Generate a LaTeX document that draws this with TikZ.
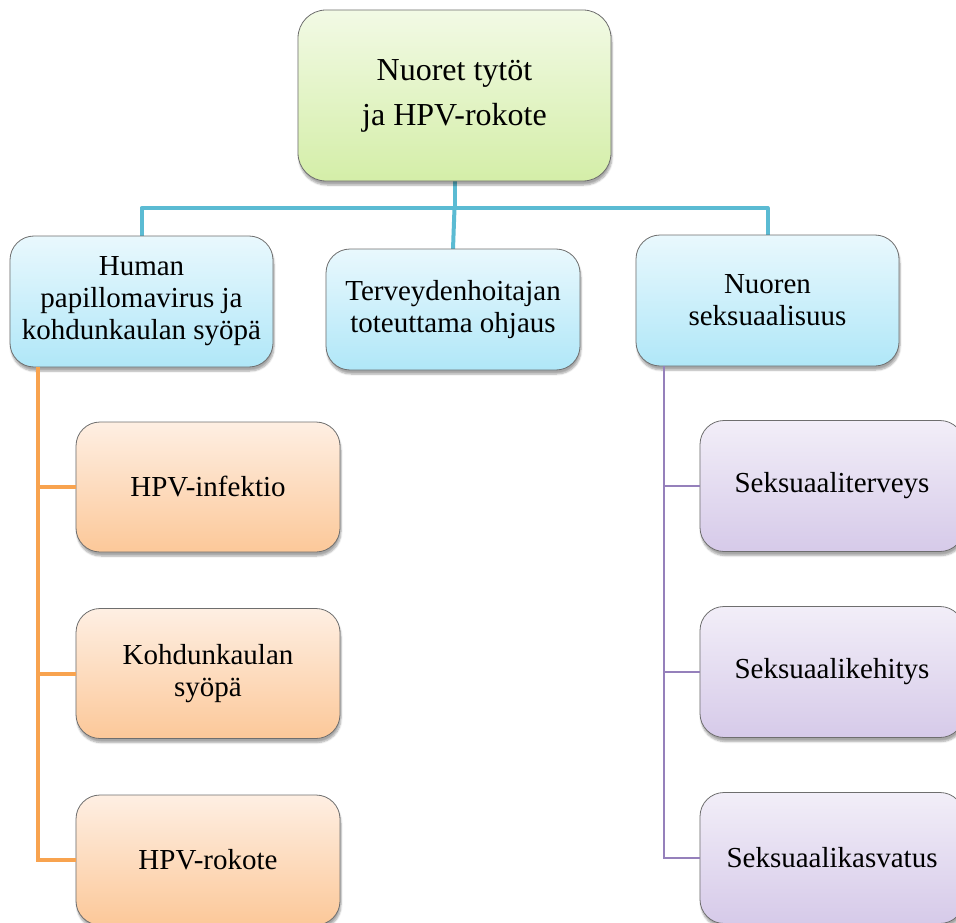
\documentclass[tikz,border=0pt]{standalone}
\usepackage{fontspec}
\setmainfont{Liberation Serif}
\usetikzlibrary{shadows.blur}

\definecolor{boxgray}{HTML}{6E6E6E}
\definecolor{greenA}{HTML}{F2FAE5}
\definecolor{greenB}{HTML}{D4EEA8}
\definecolor{blueA}{HTML}{E9F8FD}
\definecolor{blueB}{HTML}{B0E7F8}
\definecolor{orangeA}{HTML}{FEEFE3}
\definecolor{orangeB}{HTML}{FCC899}
\definecolor{purpleA}{HTML}{F2EEF8}
\definecolor{purpleB}{HTML}{D6CAE9}
\definecolor{bluelinecol}{HTML}{5BBBD3}
\definecolor{orangelinecol}{HTML}{F8A34F}
\definecolor{purplelinecol}{HTML}{9580BB}

\tikzset{
  box/.style={draw=boxgray, line width=0.8pt, rounded corners=24pt, align=center,
    blur shadow={shadow xshift=1pt, shadow yshift=-4pt, shadow blur steps=6, shadow opacity=35},
    font=\fontsize{29}{32}\selectfont},
  rootbox/.style={box, rounded corners=28pt, minimum width=313pt, minimum height=171pt,
    top color=greenA, bottom color=greenB, font=\fontsize{32}{45}\selectfont},
  bluebox/.style={box, minimum width=263pt, minimum height=131pt, top color=blueA, bottom color=blueB},
  orangebox/.style={box, minimum width=264pt, minimum height=130pt, top color=orangeA, bottom color=orangeB},
  purplebox/.style={box, minimum width=264pt, minimum height=131pt, top color=purpleA, bottom color=purpleB},
  bluelink/.style={draw=bluelinecol, line width=4pt, line join=round},
  orangelink/.style={draw=orangelinecol, line width=4pt},
  purplelink/.style={draw=purplelinecol, line width=2pt}
}

\begin{document}
\begin{tikzpicture}[x=1pt,y=-1pt]
\clip (0,0) rectangle (956,923);
% links
\coordinate (hub) at (454.5,208);
\coordinate (ospine) at (38,367);
\coordinate (pspine) at (664,366);
\draw[bluelink] (454.5,181) -- (hub);
\draw[bluelink] (141.5,236) |- (hub) -| (767.5,235);
\draw[bluelink] (hub) -- (453,249);
% boxes
\node[rootbox] (root) at (454.5,95.5) {Nuoret tytöt\\ja HPV-rokote};
\node[bluebox] (hpv) at (141.5,301.5) {Human\\papillomavirus ja\\kohdunkaulan syöpä};
\node[bluebox, minimum width=254pt, minimum height=121pt] (ohjaus) at (453,309.5) {Terveydenhoitajan\\toteuttama ohjaus};
\node[bluebox] (seks) at (767.5,300.5) {Nuoren\\seksuaalisuus};
\node[orangebox] (inf) at (208,487) {HPV-infektio};
\node[orangebox] (syopa) at (208,673.5) {Kohdunkaulan\\syöpä};
\node[orangebox] (rokote) at (208,860) {HPV-rokote};
\node[purplebox] (terv) at (832,486) {Seksuaaliterveys};
\node[purplebox] (kehit) at (832,672) {Seksuaalikehitys};
\node[purplebox] (kasv) at (832,858) {Seksuaalikasvatus};
\draw[orangelink] (ospine) |- (inf.west);
\draw[orangelink] (ospine) |- (syopa.west);
\draw[orangelink] (ospine) |- (rokote.west);
\draw[purplelink] (pspine) |- (terv.west);
\draw[purplelink] (pspine) |- (kehit.west);
\draw[purplelink] (pspine) |- (kasv.west);
\end{tikzpicture}
\end{document}
